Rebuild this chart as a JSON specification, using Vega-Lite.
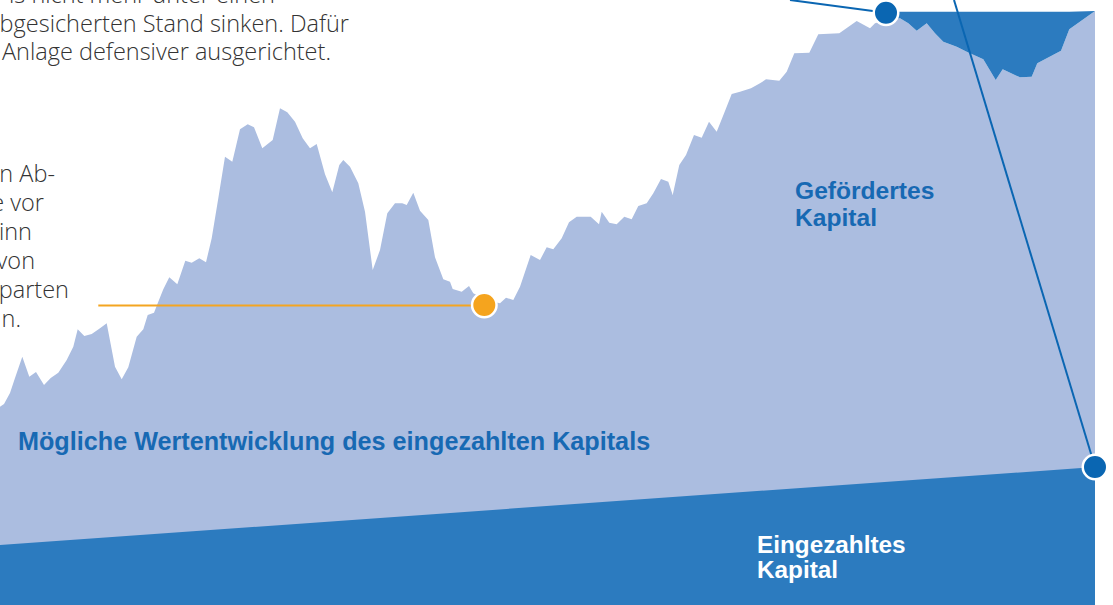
{
  "$schema": "https://vega.github.io/schema/vega-lite/v6.json",
  "width": 1113,
  "height": 605,
  "autosize": {"type": "none"},
  "padding": 0,
  "background": "white",
  "config": {"view": {"stroke": null}},
  "datasets": {
    "curve": [
      {"t": 0, "v": 198.3}, {"t": 4, "v": 201}, {"t": 10, "v": 212}, {"t": 15, "v": 227}, {"t": 22.3, "v": 248.3},
      {"t": 29.3, "v": 228.3}, {"t": 36, "v": 233}, {"t": 44, "v": 220}, {"t": 50.7, "v": 227}, {"t": 58.3, "v": 232.3},
      {"t": 66.7, "v": 245}, {"t": 73.3, "v": 258.3}, {"t": 77.7, "v": 275.7}, {"t": 84.3, "v": 269}, {"t": 91.7, "v": 271},
      {"t": 100, "v": 276.7}, {"t": 106.7, "v": 281.7}, {"t": 115, "v": 238.3}, {"t": 121.7, "v": 225.7}, {"t": 128.3, "v": 237.7},
      {"t": 136.7, "v": 268.3}, {"t": 143.3, "v": 275.7}, {"t": 147.7, "v": 290}, {"t": 154, "v": 292.3}, {"t": 158.3, "v": 303.3},
      {"t": 163.3, "v": 315.7}, {"t": 169.3, "v": 327.7}, {"t": 177.3, "v": 320.7}, {"t": 185.3, "v": 344.3}, {"t": 191.7, "v": 342.3},
      {"t": 199.3, "v": 346.7}, {"t": 206, "v": 342.7}, {"t": 211.7, "v": 366.7}, {"t": 218.3, "v": 406.7}, {"t": 225, "v": 448.3},
      {"t": 232.3, "v": 443.3}, {"t": 240, "v": 475.7}, {"t": 247.7, "v": 480.7}, {"t": 254, "v": 477.7}, {"t": 262.3, "v": 456.7},
      {"t": 272.7, "v": 465}, {"t": 280, "v": 496.7}, {"t": 287.3, "v": 492.7}, {"t": 295, "v": 483.3}, {"t": 302.7, "v": 466.7},
      {"t": 310, "v": 456.7}, {"t": 316.7, "v": 461}, {"t": 325, "v": 430.7}, {"t": 332.3, "v": 412.7}, {"t": 339.3, "v": 440},
      {"t": 343.3, "v": 445}, {"t": 350, "v": 438.3}, {"t": 358.3, "v": 421.7}, {"t": 365, "v": 393.3}, {"t": 372.7, "v": 335},
      {"t": 380, "v": 355}, {"t": 387.3, "v": 391.7}, {"t": 395, "v": 401.7}, {"t": 402.3, "v": 401.7}, {"t": 406.7, "v": 400},
      {"t": 413.3, "v": 412.3}, {"t": 420, "v": 394.3}, {"t": 428.3, "v": 385}, {"t": 435, "v": 347.7}, {"t": 443.3, "v": 325.7},
      {"t": 450, "v": 323.3}, {"t": 452.7, "v": 316}, {"t": 461.7, "v": 313.3}, {"t": 469, "v": 319}, {"t": 473.3, "v": 311.7},
      {"t": 486, "v": 305}, {"t": 500, "v": 301.7}, {"t": 506, "v": 307.3}, {"t": 513.3, "v": 305}, {"t": 520, "v": 318.3},
      {"t": 530.7, "v": 350}, {"t": 540, "v": 345}, {"t": 546.7, "v": 357.7}, {"t": 553.3, "v": 355.7}, {"t": 561.7, "v": 366.7},
      {"t": 569, "v": 382.7}, {"t": 576.7, "v": 388.3}, {"t": 590.7, "v": 388.3}, {"t": 599, "v": 380.7}, {"t": 601.7, "v": 393.3},
      {"t": 609.3, "v": 382.3}, {"t": 616.7, "v": 380.7}, {"t": 624.3, "v": 388.3}, {"t": 631.7, "v": 385.7}, {"t": 638.3, "v": 399},
      {"t": 646.7, "v": 401.7}, {"t": 653.3, "v": 411.7}, {"t": 661, "v": 426}, {"t": 668.3, "v": 423.3}, {"t": 672.7, "v": 410},
      {"t": 679.3, "v": 440}, {"t": 686, "v": 450}, {"t": 694, "v": 470}, {"t": 701.7, "v": 467.3}, {"t": 709, "v": 483.3},
      {"t": 716.7, "v": 473.3}, {"t": 724.3, "v": 492.3}, {"t": 731.7, "v": 511}, {"t": 740, "v": 513.3}, {"t": 751, "v": 516.7},
      {"t": 760, "v": 521.7}, {"t": 766, "v": 525.7}, {"t": 779.3, "v": 524.3}, {"t": 786.7, "v": 533.3}, {"t": 794.3, "v": 551.7},
      {"t": 809.3, "v": 552.3}, {"t": 818.3, "v": 570.7}, {"t": 839.3, "v": 571.7}, {"t": 856.7, "v": 584}, {"t": 870, "v": 576.7},
      {"t": 875, "v": 581.7}, {"t": 886, "v": 585}, {"t": 900, "v": 586.7}, {"t": 908.3, "v": 581.7}, {"t": 916.7, "v": 574.3},
      {"t": 926.7, "v": 581.7}, {"t": 935, "v": 571.7}, {"t": 943.3, "v": 563.3}, {"t": 956.7, "v": 558.3}, {"t": 966.7, "v": 553.3},
      {"t": 983.3, "v": 545.7}, {"t": 995.7, "v": 525}, {"t": 1002.7, "v": 535.7}, {"t": 1020, "v": 527.7}, {"t": 1031.7, "v": 528.3},
      {"t": 1037.3, "v": 541.7}, {"t": 1061, "v": 554.3}, {"t": 1069.3, "v": 575.7}, {"t": 1095, "v": 594}
    ],
    "drawdown": [
      {"t": 888, "top": 593.3, "low": 585.5}, {"t": 900, "top": 593.3, "low": 586.7}, {"t": 908.3, "top": 593.3, "low": 581.7},
      {"t": 916.7, "top": 593.3, "low": 574.3}, {"t": 926.7, "top": 593.3, "low": 581.7}, {"t": 935, "top": 593.3, "low": 571.7},
      {"t": 943.3, "top": 593.3, "low": 563.3}, {"t": 956.7, "top": 593.3, "low": 558.3}, {"t": 966.7, "top": 593.3, "low": 553.3},
      {"t": 983.3, "top": 593.3, "low": 545.7}, {"t": 995.7, "top": 593.3, "low": 525}, {"t": 1002.7, "top": 593.3, "low": 535.7},
      {"t": 1020, "top": 593.3, "low": 527.7}, {"t": 1031.7, "top": 593.3, "low": 528.3}, {"t": 1037.3, "top": 593.3, "low": 541.7},
      {"t": 1061, "top": 593.3, "low": 554.3}, {"t": 1069.3, "top": 593.3, "low": 575.7}, {"t": 1095, "top": 594, "low": 594}
    ],
    "paid": [{"t": 0, "v": 60}, {"t": 1095, "v": 138}],
    "links": [
      {"t": 790, "v": 605, "t2": 886, "v2": 592.3},
      {"t": 954, "v": 605, "t2": 1095, "v2": 138}
    ],
    "level": [{"t": 98.3, "v": 299.5, "t2": 484.3}],
    "markerOrange": [{"t": 484.3, "v": 300}],
    "markersBlue": [{"t": 886, "v": 592.3}, {"t": 1095, "v": 138}],
    "para": [
      {"t": 275, "v": 601.6, "label": "ls nicht mehr unter einen"},
      {"t": 349, "v": 573.3, "label": "bgesicherten Stand sinken. Dafür"},
      {"t": 331, "v": 545, "label": "Anlage defensiver ausgerichtet."},
      {"t": 55, "v": 423.3, "label": "n Ab-"},
      {"t": 44, "v": 394.3, "label": "e vor"},
      {"t": 32, "v": 365.3, "label": "inn"},
      {"t": 35, "v": 336.3, "label": "von"},
      {"t": 69, "v": 306.7, "label": "parten"},
      {"t": 21, "v": 277.7, "label": "n."}
    ],
    "mainLabel": [
      {"t": 18, "v": 155, "label": "Mögliche Wertentwicklung des eingezahlten Kapitals"}
    ],
    "blueLabels": [
      {"t": 795, "v": 405.7, "label": "Gefördertes"},
      {"t": 795, "v": 379, "label": "Kapital"}
    ],
    "whiteLabels": [
      {"t": 757, "v": 52.3, "label": "Eingezahltes"},
      {"t": 757, "v": 26.7, "label": "Kapital"}
    ]
  },
  "layer": [
    {
      "data": {"name": "curve"},
      "mark": {"type": "area", "color": "#abbde0", "interpolate": "linear"},
      "encoding": {
        "x": {"field": "t", "type": "quantitative", "scale": {"domain": [0, 1113], "nice": false, "zero": false}, "axis": null},
        "y": {"field": "v", "type": "quantitative", "scale": {"domain": [0, 605], "nice": false, "zero": false}, "axis": null}
      }
    },
    {
      "data": {"name": "paid"},
      "mark": {"type": "area", "color": "#2c7bbf"},
      "encoding": {
        "x": {"field": "t", "type": "quantitative"},
        "y": {"field": "v", "type": "quantitative"}
      }
    },
    {
      "data": {"name": "drawdown"},
      "mark": {"type": "area", "color": "#2c7bbf"},
      "encoding": {
        "x": {"field": "t", "type": "quantitative"},
        "y": {"field": "top", "type": "quantitative"},
        "y2": {"field": "low"}
      }
    },
    {
      "data": {"name": "links"},
      "mark": {"type": "rule", "color": "#0a66b2", "strokeWidth": 2},
      "encoding": {
        "x": {"field": "t", "type": "quantitative"},
        "y": {"field": "v", "type": "quantitative"},
        "x2": {"field": "t2"},
        "y2": {"field": "v2"}
      }
    },
    {
      "data": {"name": "level"},
      "mark": {"type": "rule", "color": "#f4a521", "strokeWidth": 2},
      "encoding": {
        "x": {"field": "t", "type": "quantitative"},
        "x2": {"field": "t2"},
        "y": {"field": "v", "type": "quantitative"}
      }
    },
    {
      "data": {"name": "markerOrange"},
      "mark": {"type": "point", "filled": true, "size": 600, "color": "#f5a41e", "stroke": "white", "strokeWidth": 2.5, "opacity": 1},
      "encoding": {
        "x": {"field": "t", "type": "quantitative"},
        "y": {"field": "v", "type": "quantitative"}
      }
    },
    {
      "data": {"name": "markersBlue"},
      "mark": {"type": "point", "filled": true, "size": 600, "color": "#0a66b2", "stroke": "white", "strokeWidth": 2.5, "opacity": 1},
      "encoding": {
        "x": {"field": "t", "type": "quantitative"},
        "y": {"field": "v", "type": "quantitative"}
      }
    },
    {
      "data": {"name": "para"},
      "mark": {"type": "text", "align": "right", "baseline": "alphabetic", "font": "Open Sans", "fontWeight": 300, "fontSize": 23.5, "color": "#333333"},
      "encoding": {
        "x": {"field": "t", "type": "quantitative"},
        "y": {"field": "v", "type": "quantitative"},
        "text": {"field": "label"}
      }
    },
    {
      "data": {"name": "mainLabel"},
      "mark": {"type": "text", "align": "left", "baseline": "alphabetic", "font": "Liberation Sans", "fontWeight": "bold", "fontSize": 25.2, "color": "#1769b3"},
      "encoding": {
        "x": {"field": "t", "type": "quantitative"},
        "y": {"field": "v", "type": "quantitative"},
        "text": {"field": "label"}
      }
    },
    {
      "data": {"name": "blueLabels"},
      "mark": {"type": "text", "align": "left", "baseline": "alphabetic", "font": "Liberation Sans", "fontWeight": "bold", "fontSize": 24.6, "color": "#1769b3"},
      "encoding": {
        "x": {"field": "t", "type": "quantitative"},
        "y": {"field": "v", "type": "quantitative"},
        "text": {"field": "label"}
      }
    },
    {
      "data": {"name": "whiteLabels"},
      "mark": {"type": "text", "align": "left", "baseline": "alphabetic", "font": "Liberation Sans", "fontWeight": "bold", "fontSize": 24.3, "color": "white"},
      "encoding": {
        "x": {"field": "t", "type": "quantitative"},
        "y": {"field": "v", "type": "quantitative"},
        "text": {"field": "label"}
      }
    }
  ]
}
